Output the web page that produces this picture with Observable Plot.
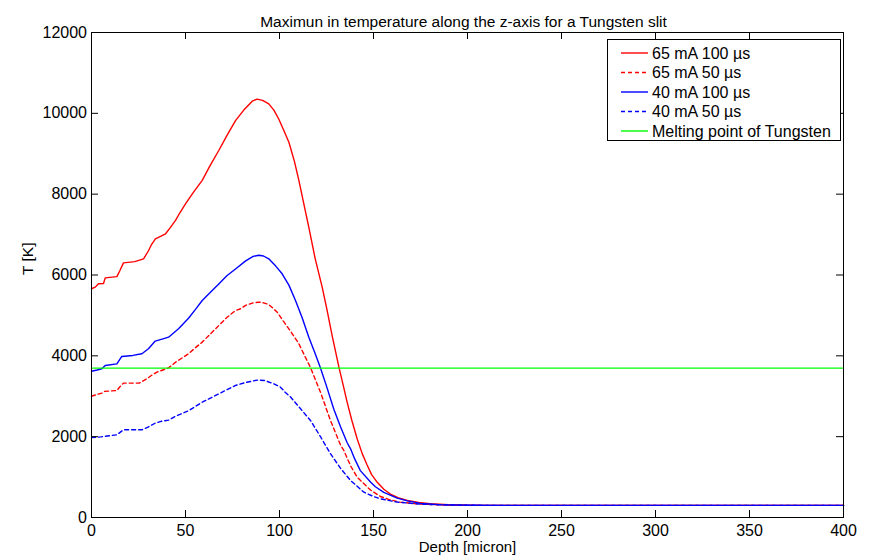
<!DOCTYPE html>
<html><head><meta charset="utf-8">
<script src="https://cdn.jsdelivr.net/npm/d3@7"></script>
<script src="https://cdn.jsdelivr.net/npm/@observablehq/plot@0.6"></script>
<style>
body{margin:0;background:#fff;}
#wrap{position:relative;width:879px;height:560px;font-family:"Liberation Sans",Arial,Helvetica,sans-serif;}
#legend{position:absolute;left:607px;top:39px;}
</style></head><body><div id="wrap"></div>
<script>
const xTicks = [0, 50, 100, 150, 200, 250, 300, 350, 400];
const yTicks = [0, 2000, 4000, 6000, 8000, 10000, 12000];
const seriesNames = ["65 mA 100 \u00b5s", "65 mA 50 \u00b5s", "40 mA 100 \u00b5s", "40 mA 50 \u00b5s"];
const meltingName = "Melting point of Tungsten";
const meltingPoint = 3695;

const depth65_100 = [0,2,3.7,6.4,7.3,13.5,15,17,23,27.7,30.3,32,34,37,39.4,42,44.7,47,50,54,58.9,63,67.7,72,76.6,81,85.5,88,91,94.3,97,99.6,103,105,108,110.3,113,115.6,119,122.7,125,128,131.6,134,136,138.5,141.3,144,146.6,149,152,155.5,159,163,168,174,180,190,200,220,400];
const temp65_100  = [5660,5700,5785,5790,5930,5960,6100,6300,6330,6400,6600,6760,6895,6960,7020,7180,7350,7540,7760,8030,8340,8700,9080,9450,9820,10080,10300,10350,10320,10235,10080,9860,9500,9285,8800,8340,7750,7180,6400,5700,5200,4500,3720,3250,2850,2400,1950,1580,1300,1060,870,700,580,490,420,370,340,315,302,300,300];

const depth65_50 = [0,2,5.5,7,13.5,15,17,25.4,29.4,32,34.8,38,41,45,51.6,55,58.9,63,67.7,72,76.6,79.3,82,86,89,91.5,94.3,98.8,101.4,106,110.3,112,116.5,121.8,127.1,132.4,134.2,137.8,141.3,143,148.4,153.7,158,164,175,190,210,400];
const temp65_50  = [3000,3030,3077,3120,3143,3230,3325,3325,3430,3520,3596,3650,3704,3850,4050,4190,4340,4530,4750,4950,5120,5165,5250,5310,5330,5310,5270,5080,4900,4600,4300,4132,3710,3100,2400,1800,1660,1280,1000,920,680,520,450,380,330,305,300,300];

const depth40_100 = [0,3,5.5,7.3,13.5,16.1,22,26.8,30.3,33.9,38,41,46.3,51.6,55,58.9,63,67.7,72,76.6,82,86,89,91.5,94.3,98,101.4,105,108.5,112,115.6,119,121.8,125,128.9,132.4,136,137.8,140,143,148.4,151,155.5,162.6,168,175,185,200,220,400];
const temp40_100  = [3620,3650,3680,3760,3800,3985,4010,4050,4175,4365,4420,4462,4670,4930,5130,5370,5560,5780,5980,6150,6350,6460,6490,6470,6400,6220,6030,5750,5370,4950,4460,4050,3700,3250,2680,2250,1850,1700,1450,1160,880,760,620,480,410,350,318,303,300,300];

const depth40_50 = [0,5,13.5,17,26.8,30,33.9,37,41,45,51.6,58.9,67.7,76.6,82,88.1,92,97,100.5,103,105.9,111.2,116.5,121.8,127.1,132.4,137.8,144.9,150,153.7,162.6,175,190,210,400];
const temp40_50  = [1975,1995,2046,2170,2170,2235,2334,2380,2410,2510,2640,2854,3060,3267,3340,3400,3390,3308,3225,3100,2980,2690,2400,2000,1580,1220,916,626,520,462,380,330,308,300,300];

const rows = (ds, ts) => ds.map((d, i) => ({depth: d, T: ts[i]}));
const series = [
  {name: seriesNames[0], data: rows(depth65_100, temp65_100), color: "#ff0000", dash: null},
  {name: seriesNames[1], data: rows(depth65_50, temp65_50), color: "#ff0000", dash: "4,3"},
  {name: seriesNames[2], data: rows(depth40_100, temp40_100), color: "#0000ff", dash: null},
  {name: seriesNames[3], data: rows(depth40_50, temp40_50), color: "#0000ff", dash: "4,3"}
];

const W = 879, H = 560, mL = 91, mR = 36, mT = 32, mB = 43;
const fw = W - mL - mR, fh = H - mT - mB, tk = 7;
const font = '"Liberation Sans", Arial, Helvetica, sans-serif';

const plot = Plot.plot({
  width: W, height: H,
  marginLeft: mL, marginRight: mR, marginTop: mT, marginBottom: mB,
  x: {domain: [0, 400]},
  y: {domain: [0, 12000]},
  style: {fontFamily: font, fontSize: "16px", background: "white", color: "black"},
  marks: [
    ...series.map(s => Plot.line(s.data, {x: "depth", y: "T", stroke: s.color, strokeWidth: 1.4, strokeDasharray: s.dash})),
    Plot.ruleY([meltingPoint], {stroke: "#00ff00", strokeWidth: 1.4}),
    Plot.ruleX(xTicks, {stroke: "black", insetTop: fh - tk}),
    Plot.ruleX(xTicks, {stroke: "black", insetBottom: fh - tk}),
    Plot.ruleY(yTicks, {stroke: "black", insetRight: fw - tk}),
    Plot.ruleY(yTicks, {stroke: "black", insetLeft: fw - tk}),
    Plot.frame({stroke: "black"}),
    Plot.axisX({ticks: xTicks, tickSize: 0, tickPadding: 7, tickFormat: d => String(d), label: null}),
    Plot.axisY({ticks: yTicks, tickSize: 0, tickPadding: 4.5, tickFormat: d => String(d), label: null}),
    Plot.text(["T [K]"], {text: d => d, frameAnchor: "left", dx: -63, rotate: -90, fontSize: 15.5}),
    Plot.text(["Depth [micron]"], {text: d => d, frameAnchor: "bottom", dy: 34, fontSize: 15}),
    Plot.text(["Maximun in temperature along the z-axis for a Tungsten slit"], {text: d => d, frameAnchor: "top", dy: -17, dx: -4, fontSize: 15.5})
  ]
});
const wrap = document.getElementById("wrap");
wrap.appendChild(plot);

// legend box
const legendItems = [
  ...series.map(s => ({name: s.name, color: s.color, dash: s.dash})),
  {name: meltingName, color: "#00ff00", dash: null}
];
const lw = 234, lh = 102;
const leg = d3.select(wrap).append("svg").attr("id", "legend").attr("width", lw).attr("height", lh);
leg.append("rect").attr("x", 0.5).attr("y", 0.5).attr("width", lw - 1).attr("height", lh - 1)
  .attr("fill", "white").attr("stroke", "black");
legendItems.forEach((it, i) => {
  const cy = 14 + i * 19.5;
  leg.append("line").attr("x1", 14).attr("x2", 41).attr("y1", cy).attr("y2", cy)
    .attr("stroke", it.color).attr("stroke-width", 1.4).attr("stroke-dasharray", it.dash);
  leg.append("text").attr("x", 45).attr("y", cy).attr("dy", "0.35em")
    .attr("font-family", font).attr("font-size", 16).text(it.name);
});
</script></body></html>
